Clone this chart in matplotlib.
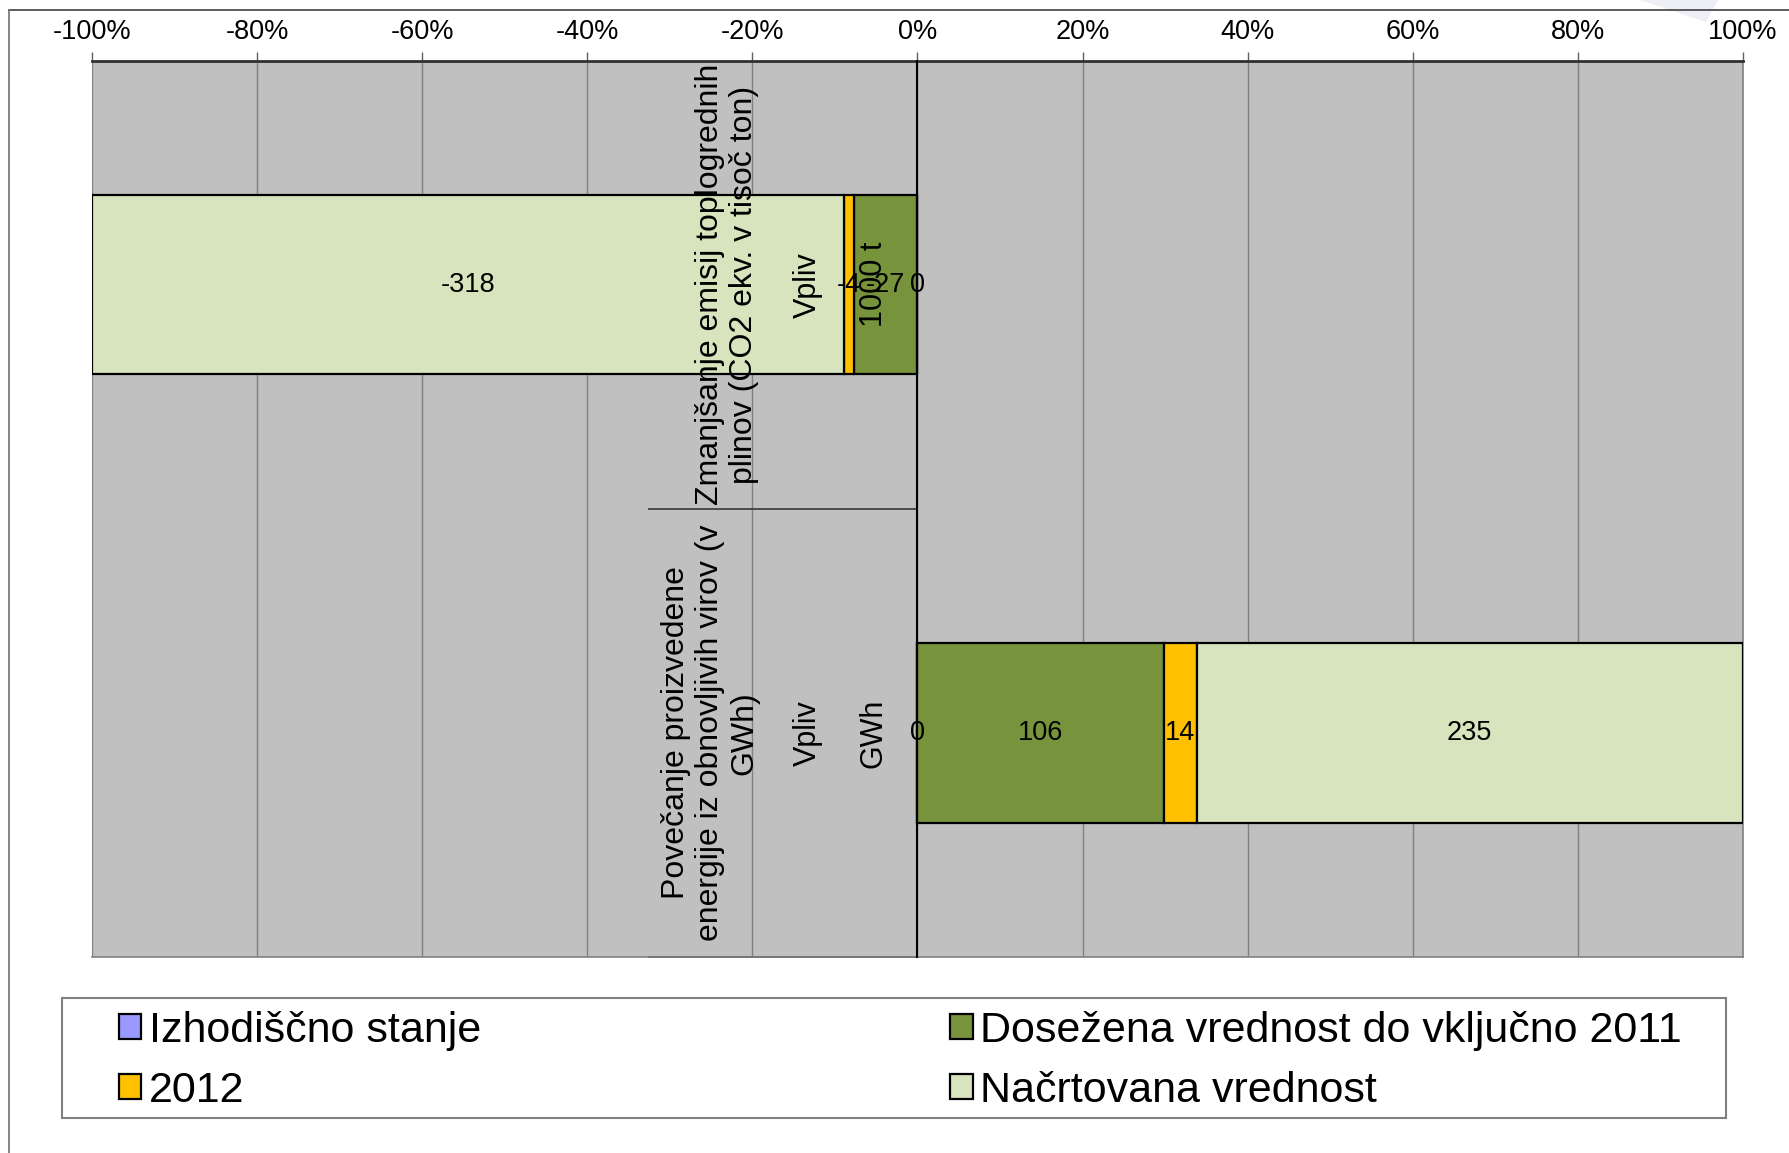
import numpy as np
import matplotlib
matplotlib.use("Agg")
import matplotlib.pyplot as plt
from matplotlib.ticker import PercentFormatter, FixedLocator
from matplotlib.lines import Line2D
from matplotlib.patches import Rectangle, Polygon

plt.rcParams['font.family'] = ['Liberation Sans', 'DejaVu Sans']
plt.rcParams['axes.unicode_minus'] = False

# ---- data ----
series_names = ["Izhodiščno stanje", "Dosežena vrednost do vključno 2011", "2012", "Načrtovana vrednost"]
series_colors = ["#9999FF", "#77933C", "#FFC000", "#D7E4BD"]
# rows: categories (top first)
cat_level1 = ["Zmanjšanje emisij toplogrednih\nplinov (CO2 ekv. v tisoč ton)",
              "Povečanje proizvedene\nenergije iz obnovljivih virov (v\nGWh)"]
cat_level2 = ["Vpliv", "Vpliv"]
cat_level3 = ["1000 t", "GWh"]
izhodiscno = [0, 0]
dosezena = [-27, 106]
leto2012 = [-4, 14]
nacrtovana = [-318, 235]
x_ticks = [-1.0, -0.8, -0.6, -0.4, -0.2, 0.0, 0.2, 0.4, 0.6, 0.8, 1.0]

values = np.array([izhodiscno, dosezena, leto2012, nacrtovana], dtype=float)  # series x cats
totals = np.abs(values).sum(axis=0)
pct = values / totals

fig = plt.figure(figsize=(17.9, 11.53), dpi=100)

# faint decoration at top right
fig.add_artist(Polygon([[1640/1790, 1], [1718/1790, 1], [1706/1790, 1 - 22/1153]],
                       closed=True, transform=fig.transFigure, facecolor="#EEEEF7",
                       edgecolor="none", zorder=0))

ax = fig.add_axes([92/1790, 1 - 957/1153, (1743-92)/1790, (957-60.5)/1153])
ax.set_facecolor("#C0C0C0")

ypos = np.array([1, 0])  # top category at top
left = np.zeros(2)
bars = []
for i, name in enumerate(series_names):
    b = ax.barh(ypos, pct[i], left=left, height=0.4, color=series_colors[i],
                edgecolor="black", linewidth=1.6, label=name, zorder=3)
    bars.append(b)
    ax.bar_label(b, labels=[f"{int(v)}" for v in values[i]], label_type="center",
                 fontsize=19.5, color="black", zorder=5)
    left = left + pct[i]

ax.set_xlim(-1, 1)
ax.set_ylim(-0.5, 1.5)

# x axis on top
ax.xaxis.tick_top()
ax.xaxis.set_major_locator(FixedLocator(x_ticks))
ax.xaxis.set_major_formatter(PercentFormatter(xmax=1, decimals=0))
ax.tick_params(axis="x", which="major", direction="out", length=6.5, width=1,
               color="#606060", labelsize=19.5, pad=5)
ax.grid(axis="x", color="#808080", linewidth=1)
ax.set_axisbelow(True)

# y axis at zero with long category separator ticks
ax.spines['left'].set_position(('data', 0))
ax.spines['left'].set_color("black")
ax.spines['left'].set_linewidth(1.5)
ax.spines['left'].set_zorder(4)
ax.set_yticks([])
ax.yaxis.set_minor_locator(FixedLocator([0.5, -0.5]))
ax.tick_params(axis="y", which="minor", direction="out", length=194, width=1.3, color="#404040")
ax.spines['top'].set_color("#303030")
ax.spines['top'].set_linewidth(2)
ax.spines['bottom'].set_color("#808080")
ax.spines['bottom'].set_linewidth(1.2)
ax.spines['right'].set_color("#808080")
ax.spines['right'].set_linewidth(1.2)

# multi-level category labels
for y, l1, l2, l3 in zip(ypos, cat_level1, cat_level2, cat_level3):
    ax.text(-0.192, y, l1, rotation=90, ha="right", va="center", fontsize=23,
            multialignment="center", linespacing=1.17, zorder=6)
    ax.text(-0.133, y, l2, rotation=90, ha="center", va="center", fontsize=22, zorder=6)
    ax.text(-0.053, y, l3, rotation=90, ha="center", va="center", fontsize=22, zorder=6)

# legend
order = [0, 2, 1, 3]
handles = [bars[i] for i in order]
labels = [series_names[i] for i in order]
fig.add_artist(Rectangle((62/1790, 1 - 1118/1153), (1726-62)/1790, 120/1153,
                         transform=fig.transFigure, fill=False, edgecolor="#808080", linewidth=1.5))
fig.legend(handles, labels, ncol=2, loc="upper left", bbox_to_anchor=(119/1790, 1 - 1011/1153),
           frameon=False, fontsize=31, borderpad=0, borderaxespad=0,
           handlelength=0.52, handleheight=0.52,
           handletextpad=0.17, columnspacing=10.9, labelspacing=0.46)

# chart-area border lines
fig.add_artist(Line2D([9.5/1790, 1], [1 - 10/1153, 1 - 10/1153], transform=fig.transFigure,
                      color="#404040", linewidth=1.2))
fig.add_artist(Line2D([9.5/1790, 9.5/1790], [0, 1 - 10/1153], transform=fig.transFigure,
                      color="#707070", linewidth=1.2))

fig.savefig("out.png", dpi=100)
